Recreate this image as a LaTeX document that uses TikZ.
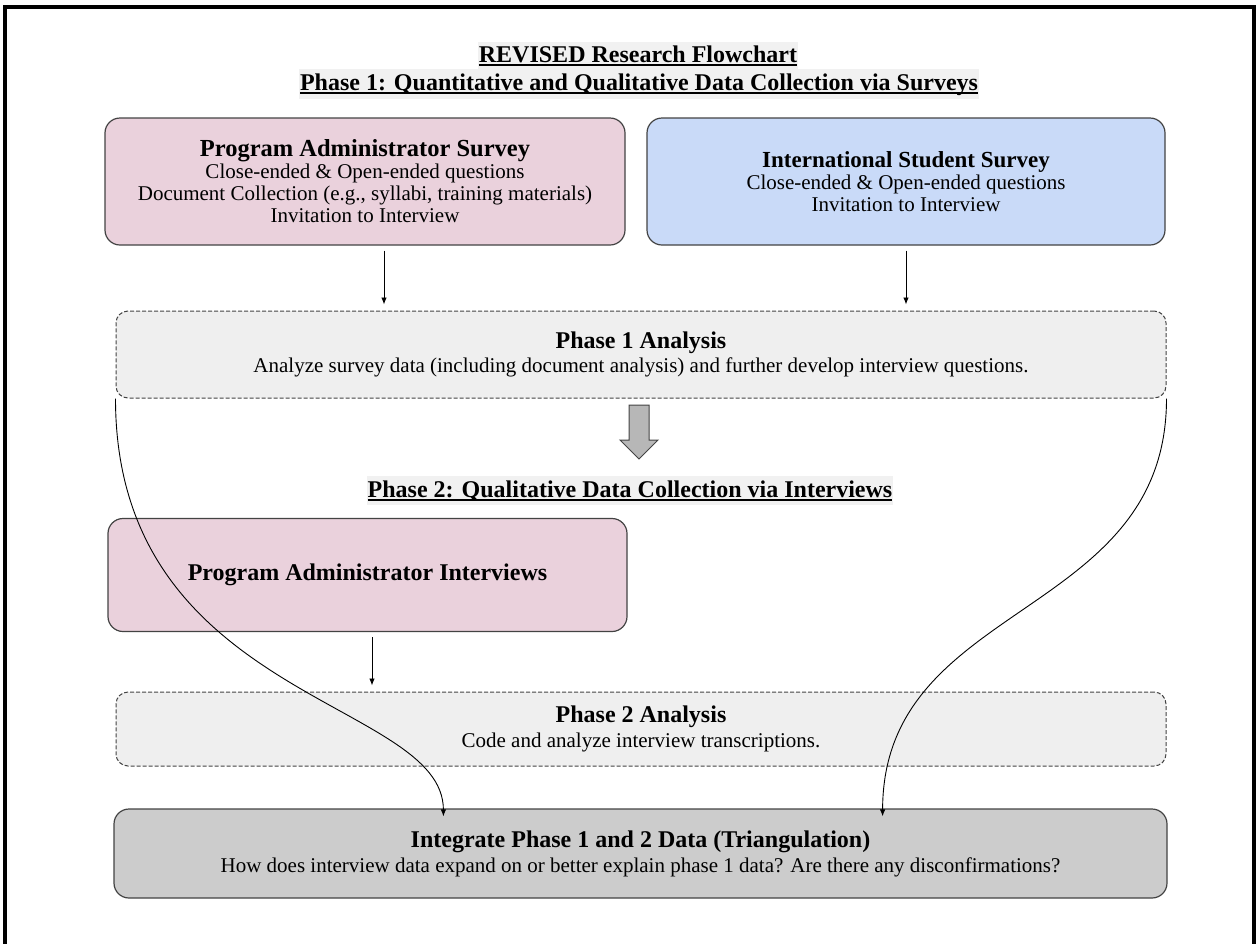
\documentclass[tikz,border=0pt]{standalone}
\usepackage{fontspec}
\setmainfont{Liberation Serif}
\usetikzlibrary{positioning,calc,arrows.meta}
\definecolor{pkfill}{HTML}{EAD1DC}
\definecolor{blfill}{HTML}{C9DAF8}
\definecolor{ltgrey}{HTML}{EFEFEF}
\definecolor{mdgrey}{HTML}{CCCCCC}
\definecolor{argrey}{HTML}{B7B7B7}
\definecolor{hlgrey}{HTML}{F1F1F1}
\definecolor{bdgrey}{HTML}{434343}
\newcommand{\bxttl}{\fontsize{24}{24}\selectfont\bfseries}
\newcommand{\bxsub}{\fontsize{21}{22}\selectfont}
\newsavebox{\hdbox}
\newcommand{\hdul}[1]{\sbox{\hdbox}{#1}\rlap{\rule[-3.5pt]{\wd\hdbox}{1.6pt}}\usebox{\hdbox}}
\tikzset{
  bx/.style   ={rectangle, rounded corners=15pt, draw=bdgrey, line width=1.2pt,
                align=center, font=\bxsub, inner sep=2pt},
  bxpk/.style ={bx, fill=pkfill},
  bxbl/.style ={bx, fill=blfill},
  bxan/.style ={bx, rounded corners=12pt, line width=1pt,
                dash pattern=on 4pt off 2pt, fill=ltgrey},
  bxint/.style={bx, fill=mdgrey},
  hdr/.style  ={fill=hlgrey, inner xsep=1pt, inner ysep=4pt,
                font=\fontsize{24}{26}\selectfont\bfseries},
  fl/.style   ={-{Latex[length=7pt,width=5.5pt]}, line width=0.9pt},
  bigarr/.style={fill=argrey, draw=bdgrey, line width=1pt}
}

\begin{document}
\begin{tikzpicture}[x=1pt, y=-1pt]
  \useasboundingbox (0,0) rectangle (1259,943);
  \draw[line width=4pt] (5,7) rectangle (1254,960);
  % headers
  \node[hdr,anchor=base] (hdone) at (638,62.5) {\hdul{REVISED Research Flowchart}};
  \node[hdr,anchor=base] (hdtwo) at (639,90) {\hdul{Phase 1: Quantitative and Qualitative Data Collection via Surveys}};
  \node[hdr,anchor=base] (hdthr) at (630,497) {\hdul{Phase 2: Qualitative Data Collection via Interviews}};
  % phase 1 surveys
  \node[bxpk,minimum width=520pt,minimum height=127pt] (pasurv) at (365,181.5)
    {{\fontsize{24.5}{24}\selectfont\bfseries Program Administrator Survey}\\Close-ended \& Open-ended questions\\Document Collection (e.g., syllabi, training materials)\\Invitation to Interview};
  \node[bxbl,minimum width=518pt,minimum height=127pt] (isurv) at (906,181.5)
    {{\fontsize{23}{24}\selectfont\bfseries International Student Survey}\\Close-ended \& Open-ended questions\\Invitation to Interview};
  \node[bxan,minimum width=1050pt,minimum height=87pt] (p1ana) at (641,354.5)
    {{\bxttl Phase 1 Analysis}\\[2pt]Analyze survey data (including document analysis) and further develop interview questions.};
  % phase 2 interviews
  \node[bxpk,minimum width=519pt,minimum height=113pt] (painter) at (367.5,575)
    {\bxttl Program Administrator Interviews};
  \node[bxan,minimum width=1050pt,minimum height=74pt] (p2ana) at (641,729)
    {{\bxttl Phase 2 Analysis}\\[3pt]Code and analyze interview transcriptions.};
  \node[bxint,minimum width=1053pt,minimum height=89pt] (integ) at (640.5,853.5)
    {{\bxttl Integrate Phase 1 and 2 Data (Triangulation)}\\[3pt]How does interview data expand on or better explain phase 1 data? Are there any disconfirmations?};
  % connectors
  \draw[fl,shorten <=5pt,shorten >=6pt] ([xshift=19pt]pasurv.south) -- ([xshift=19pt]pasurv.south |- p1ana.north);
  \draw[fl,shorten <=5pt,shorten >=6pt] (isurv.south) -- (isurv.south |- p1ana.north);
  \draw[fl,shorten <=5pt,shorten >=6pt] ([xshift=4.5pt]painter.south) -- ([xshift=4.5pt]painter.south |- p2ana.north);
  \draw[fl] (p1ana.south west) .. controls +(0,302) and +(0,-117) .. ($(integ.north west)+(330,8)$);
  \draw[fl] (p1ana.south east) .. controls +(0,222) and +(0,-217) .. ($(integ.north east)+(-285,8)$);
  \draw[bigarr] (629,405) -- (649,405) -- (649,440) -- (658,440) -- (639,459) -- (620,440) -- (629,440) -- cycle;
\end{tikzpicture}
\end{document}
